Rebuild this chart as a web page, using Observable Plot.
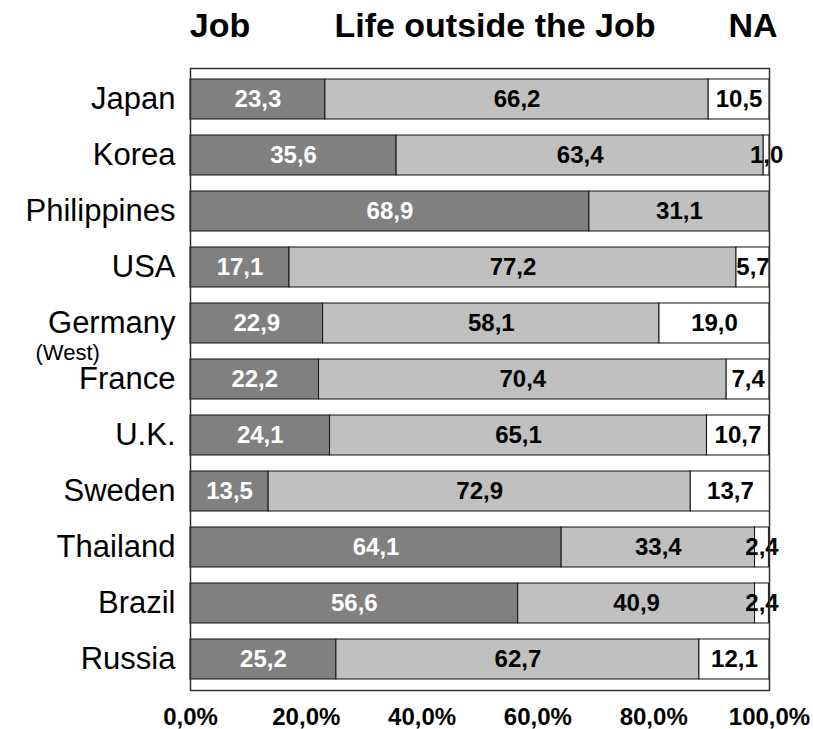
<!DOCTYPE html>
<html>
<head>
<meta charset="utf-8">
<script src="https://cdn.jsdelivr.net/npm/d3@7"></script>
<script src="https://cdn.jsdelivr.net/npm/@observablehq/plot@0.6"></script>
<style>
  html, body { margin: 0; padding: 0; background: #fff; }
  body { width: 813px; height: 729px; overflow: hidden; font-family: "Liberation Sans", Arial, sans-serif; }
  #head { position: relative; height: 50px; }
  #head span { position: absolute; top: 8px; line-height: 34px; font-size: 34px; font-weight: bold; color: #000; transform: translateX(-50%); white-space: nowrap; }
</style>
</head>
<body>
<div id="head"></div>
<div id="chart"></div>
<script>
const countries = ["Japan","Korea","Philippines","USA","Germany","France","U.K.","Sweden","Thailand","Brazil","Russia"];
const jobValues  = [23.3, 35.6, 68.9, 17.1, 22.9, 22.2, 24.1, 13.5, 64.1, 56.6, 25.2];
const lifeValues = [66.2, 63.4, 31.1, 77.2, 58.1, 70.4, 65.1, 72.9, 33.4, 40.9, 62.7];
const naValues   = [10.5,  1.0,  0.0,  5.7, 19.0,  7.4, 10.7, 13.7,  2.4,  2.4, 12.1];
const categories = ["Job", "Life outside the Job", "NA"];
const categoryColors = ["#808080", "#c0c0c0", "#ffffff"];
const xTicks = [0, 20, 40, 60, 80, 100];
const headerCenters = [220, 495, 753];

const series = [jobValues, lifeValues, naValues];
const data = countries.flatMap((c, i) =>
  categories.map((cat, k) => ({country: c, cat, value: series[k][i]}))
).filter(d => d.value > 0);

const fmt = v => v.toFixed(1).replace(".", ",");

const head = document.getElementById("head");
categories.forEach((c, i) => {
  const s = document.createElement("span");
  s.textContent = c;
  s.style.left = headerCenters[i] + "px";
  head.appendChild(s);
});

const chart = Plot.plot({
  width: 813,
  height: 679,
  marginLeft: 190,
  marginRight: 44,
  marginTop: 18,
  marginBottom: 39,
  style: {fontFamily: "'Liberation Sans', Arial, sans-serif", fontSize: "24px", color: "#000", background: "#fff"},
  x: {domain: [0, 100]},
  y: {domain: countries, paddingInner: 0.29, paddingOuter: 0.15},
  color: {domain: categories, range: categoryColors},
  marks: [
    Plot.barX(data, Plot.stackX({x: "value", y: "country", fill: "cat", stroke: "#111", strokeWidth: 1})),
    Plot.text(data, Plot.stackX({x: "value", y: "country",
      text: d => d.cat === "Job" ? fmt(d.value) : null,
      fill: "white", fontWeight: "bold", fontSize: 24})),
    Plot.text(data, Plot.stackX({x: "value", y: "country",
      text: d => d.cat !== "Job" ? fmt(d.value) : null,
      fill: "black", fontWeight: "bold", fontSize: 24})),
    Plot.frame({stroke: "#333", strokeWidth: 1.5}),
    Plot.axisX({ticks: xTicks, tickFormat: d => fmt(d) + "%", tickSize: 0, tickPadding: 17,
      fontSize: 24, fontWeight: "bold", label: null}),
    Plot.axisY({tickSize: 0, tickPadding: 15, fontSize: 31, label: null}),
    Plot.text(["Germany"], {y: d => d, text: () => "(West)", frameAnchor: "left",
      textAnchor: "start", dx: -155, dy: 29, fontSize: 22})
  ]
});
document.getElementById("chart").appendChild(chart);
</script>
</body>
</html>
